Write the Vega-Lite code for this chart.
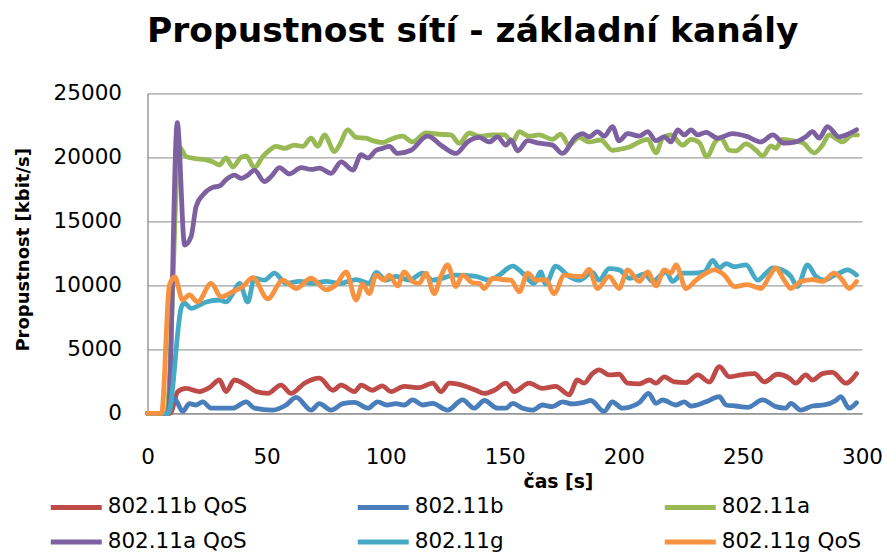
{
  "$schema": "https://vega.github.io/schema/vega-lite/v6.json",
  "width": 714.5,
  "height": 320,
  "autosize": {"type": "none"},
  "padding": {"left": 147.5, "top": 93.3, "right": 25, "bottom": 138.7},
  "background": "white",
  "title": {
    "text": "Propustnost sítí - základní kanály",
    "font": "DejaVu Sans",
    "fontSize": 34.5,
    "fontWeight": "bold",
    "color": "#000000",
    "anchor": "middle",
    "frame": "group",
    "dx": -32,
    "baseline": "alphabetic",
    "offset": 6
  },
  "datasets": {
    "d": [
      {"s":"802.11b QoS","t":0,"v":0},{"s":"802.11b QoS","t":3,"v":0},{"s":"802.11b QoS","t":6,"v":0},{"s":"802.11b QoS","t":9.5,"v":0},
      {"s":"802.11b QoS","t":12.7,"v":1700},{"s":"802.11b QoS","t":16.2,"v":1950},{"s":"802.11b QoS","t":21.8,"v":1700},{"s":"802.11b QoS","t":26,"v":2000},
      {"s":"802.11b QoS","t":30.2,"v":2600},{"s":"802.11b QoS","t":33,"v":1700},{"s":"802.11b QoS","t":36.5,"v":2600},{"s":"802.11b QoS","t":41.4,"v":2200},
      {"s":"802.11b QoS","t":45.6,"v":1700},{"s":"802.11b QoS","t":50.5,"v":1550},{"s":"802.11b QoS","t":56,"v":2200},{"s":"802.11b QoS","t":60.3,"v":1550},
      {"s":"802.11b QoS","t":65.9,"v":2350},{"s":"802.11b QoS","t":72.2,"v":2750},{"s":"802.11b QoS","t":77.8,"v":1800},{"s":"802.11b QoS","t":81.3,"v":2200},
      {"s":"802.11b QoS","t":86.9,"v":1700},{"s":"802.11b QoS","t":89.7,"v":2200},{"s":"802.11b QoS","t":94.5,"v":1800},{"s":"802.11b QoS","t":98.5,"v":2150},
      {"s":"802.11b QoS","t":102.2,"v":1700},{"s":"802.11b QoS","t":107.8,"v":2100},{"s":"802.11b QoS","t":114.1,"v":2000},{"s":"802.11b QoS","t":119.7,"v":2350},
      {"s":"802.11b QoS","t":123.2,"v":1700},{"s":"802.11b QoS","t":126.7,"v":2350},{"s":"802.11b QoS","t":133.7,"v":2100},{"s":"802.11b QoS","t":137.9,"v":1800},
      {"s":"802.11b QoS","t":141.4,"v":1550},{"s":"802.11b QoS","t":145.6,"v":1800},{"s":"802.11b QoS","t":150.5,"v":2350},{"s":"802.11b QoS","t":154,"v":1700},
      {"s":"802.11b QoS","t":160.2,"v":2350},{"s":"802.11b QoS","t":165.8,"v":1950},{"s":"802.11b QoS","t":171.4,"v":2100},{"s":"802.11b QoS","t":177,"v":1450},
      {"s":"802.11b QoS","t":180.5,"v":2600},{"s":"802.11b QoS","t":183.3,"v":2350},{"s":"802.11b QoS","t":186.8,"v":3100},{"s":"802.11b QoS","t":189.6,"v":3400},
      {"s":"802.11b QoS","t":193.8,"v":3000},{"s":"802.11b QoS","t":198,"v":3050},{"s":"802.11b QoS","t":201.6,"v":2350},{"s":"802.11b QoS","t":206.5,"v":2300},
      {"s":"802.11b QoS","t":210.7,"v":2600},{"s":"802.11b QoS","t":213.5,"v":2350},{"s":"802.11b QoS","t":217,"v":2850},{"s":"802.11b QoS","t":221.2,"v":2450},
      {"s":"802.11b QoS","t":226.1,"v":2400},{"s":"802.11b QoS","t":231,"v":3000},{"s":"802.11b QoS","t":235.9,"v":2450},{"s":"802.11b QoS","t":240.1,"v":3650},
      {"s":"802.11b QoS","t":244.3,"v":2850},{"s":"802.11b QoS","t":249.2,"v":3000},{"s":"802.11b QoS","t":254.8,"v":3100},{"s":"802.11b QoS","t":259,"v":2450},
      {"s":"802.11b QoS","t":264.5,"v":3050},{"s":"802.11b QoS","t":269.4,"v":2750},{"s":"802.11b QoS","t":272.2,"v":2350},{"s":"802.11b QoS","t":276.4,"v":3000},
      {"s":"802.11b QoS","t":279.2,"v":2600},{"s":"802.11b QoS","t":283.4,"v":3100},{"s":"802.11b QoS","t":287.6,"v":3200},{"s":"802.11b QoS","t":293.2,"v":2350},
      {"s":"802.11b QoS","t":297.7,"v":3100},

      {"s":"802.11b","t":0,"v":0},{"s":"802.11b","t":3,"v":0},{"s":"802.11b","t":6,"v":0},{"s":"802.11b","t":8.5,"v":0},
      {"s":"802.11b","t":11.3,"v":1150},{"s":"802.11b","t":14.8,"v":150},{"s":"802.11b","t":17.6,"v":750},{"s":"802.11b","t":20.4,"v":650},
      {"s":"802.11b","t":23.2,"v":900},{"s":"802.11b","t":26.7,"v":400},{"s":"802.11b","t":30,"v":400},{"s":"802.11b","t":35.8,"v":400},
      {"s":"802.11b","t":41.4,"v":900},{"s":"802.11b","t":44.9,"v":400},{"s":"802.11b","t":52.6,"v":250},{"s":"802.11b","t":58.2,"v":650},
      {"s":"802.11b","t":62.4,"v":1250},{"s":"802.11b","t":68.7,"v":250},{"s":"802.11b","t":72.2,"v":750},{"s":"802.11b","t":77.1,"v":250},
      {"s":"802.11b","t":82,"v":750},{"s":"802.11b","t":86.9,"v":850},{"s":"802.11b","t":92.5,"v":400},{"s":"802.11b","t":96.6,"v":900},
      {"s":"802.11b","t":100.5,"v":650},{"s":"802.11b","t":104.3,"v":750},{"s":"802.11b","t":107.8,"v":650},{"s":"802.11b","t":111.3,"v":1050},
      {"s":"802.11b","t":115.5,"v":650},{"s":"802.11b","t":119.7,"v":780},{"s":"802.11b","t":126,"v":250},{"s":"802.11b","t":132.3,"v":1050},
      {"s":"802.11b","t":137.2,"v":400},{"s":"802.11b","t":141.4,"v":1000},{"s":"802.11b","t":147,"v":400},{"s":"802.11b","t":150.5,"v":400},
      {"s":"802.11b","t":153.3,"v":780},{"s":"802.11b","t":157.5,"v":400},{"s":"802.11b","t":161.7,"v":250},{"s":"802.11b","t":165.8,"v":650},
      {"s":"802.11b","t":170,"v":520},{"s":"802.11b","t":174.2,"v":900},{"s":"802.11b","t":178.4,"v":730},{"s":"802.11b","t":182.6,"v":830},
      {"s":"802.11b","t":186.1,"v":1000},{"s":"802.11b","t":191.7,"v":150},{"s":"802.11b","t":195.2,"v":900},{"s":"802.11b","t":199.4,"v":400},
      {"s":"802.11b","t":202.3,"v":470},{"s":"802.11b","t":206.5,"v":830},{"s":"802.11b","t":210.4,"v":1550},{"s":"802.11b","t":213.5,"v":780},
      {"s":"802.11b","t":216.3,"v":1040},{"s":"802.11b","t":221.9,"v":650},{"s":"802.11b","t":225.4,"v":900},{"s":"802.11b","t":228.2,"v":570},
      {"s":"802.11b","t":234.5,"v":900},{"s":"802.11b","t":240.1,"v":1300},{"s":"802.11b","t":242.9,"v":650},{"s":"802.11b","t":247.1,"v":570},
      {"s":"802.11b","t":252,"v":470},{"s":"802.11b","t":258.3,"v":1050},{"s":"802.11b","t":263.8,"v":520},{"s":"802.11b","t":268,"v":400},
      {"s":"802.11b","t":270.1,"v":780},{"s":"802.11b","t":274.3,"v":250},{"s":"802.11b","t":279.2,"v":570},{"s":"802.11b","t":284.1,"v":650},
      {"s":"802.11b","t":289,"v":1000},{"s":"802.11b","t":291.1,"v":1300},{"s":"802.11b","t":294.6,"v":400},{"s":"802.11b","t":297.7,"v":830},

      {"s":"802.11a","t":0,"v":0},{"s":"802.11a","t":3,"v":0},{"s":"802.11a","t":6,"v":0},{"s":"802.11a","t":8,"v":0},
      {"s":"802.11a","t":13.4,"v":20800},{"s":"802.11a","t":16.2,"v":20050},{"s":"802.11a","t":20,"v":19900},{"s":"802.11a","t":24.6,"v":19800},
      {"s":"802.11a","t":27.4,"v":19650},{"s":"802.11a","t":30.2,"v":19400},{"s":"802.11a","t":33,"v":19950},{"s":"802.11a","t":35.8,"v":19250},
      {"s":"802.11a","t":39.3,"v":20000},{"s":"802.11a","t":41.4,"v":20100},{"s":"802.11a","t":44.9,"v":19200},{"s":"802.11a","t":48.4,"v":20050},
      {"s":"802.11a","t":51.2,"v":20550},{"s":"802.11a","t":54,"v":20850},{"s":"802.11a","t":57.5,"v":20700},{"s":"802.11a","t":61.7,"v":20950},
      {"s":"802.11a","t":65.2,"v":20850},{"s":"802.11a","t":68.7,"v":21500},{"s":"802.11a","t":71.5,"v":20850},{"s":"802.11a","t":74.3,"v":21750},
      {"s":"802.11a","t":78.5,"v":20450},{"s":"802.11a","t":80.6,"v":20950},{"s":"802.11a","t":84.1,"v":22150},{"s":"802.11a","t":87.6,"v":21550},
      {"s":"802.11a","t":91.8,"v":21500},{"s":"802.11a","t":94.5,"v":21300},{"s":"802.11a","t":98.7,"v":21150},{"s":"802.11a","t":101.5,"v":21350},
      {"s":"802.11a","t":107,"v":21650},{"s":"802.11a","t":111.3,"v":21200},{"s":"802.11a","t":116.9,"v":21900},{"s":"802.11a","t":122.5,"v":21800},
      {"s":"802.11a","t":127.4,"v":21750},{"s":"802.11a","t":130.9,"v":21100},{"s":"802.11a","t":135.1,"v":21900},{"s":"802.11a","t":139.3,"v":21650},
      {"s":"802.11a","t":144.9,"v":21750},{"s":"802.11a","t":149.8,"v":21750},{"s":"802.11a","t":153.3,"v":21200},{"s":"802.11a","t":156.1,"v":22000},
      {"s":"802.11a","t":160.2,"v":21650},{"s":"802.11a","t":164.4,"v":21750},{"s":"802.11a","t":170,"v":21400},{"s":"802.11a","t":173.5,"v":21800},
      {"s":"802.11a","t":177,"v":20950},{"s":"802.11a","t":181.2,"v":21550},{"s":"802.11a","t":185.4,"v":21200},{"s":"802.11a","t":190.3,"v":21350},
      {"s":"802.11a","t":195.2,"v":20550},{"s":"802.11a","t":200.1,"v":20700},{"s":"802.11a","t":202.3,"v":20800},{"s":"802.11a","t":206.5,"v":21200},
      {"s":"802.11a","t":210,"v":21400},{"s":"802.11a","t":213.5,"v":20350},{"s":"802.11a","t":216.3,"v":21500},{"s":"802.11a","t":219.8,"v":21750},
      {"s":"802.11a","t":224.7,"v":20950},{"s":"802.11a","t":228.2,"v":21400},{"s":"802.11a","t":231.7,"v":21150},{"s":"802.11a","t":234.8,"v":20050},
      {"s":"802.11a","t":238.7,"v":21300},{"s":"802.11a","t":240.8,"v":21500},{"s":"802.11a","t":244.3,"v":20550},{"s":"802.11a","t":247.1,"v":20500},
      {"s":"802.11a","t":251.3,"v":21050},{"s":"802.11a","t":255.5,"v":20550},{"s":"802.11a","t":258.3,"v":20100},{"s":"802.11a","t":261.8,"v":20900},
      {"s":"802.11a","t":263.8,"v":20700},{"s":"802.11a","t":266.6,"v":21400},{"s":"802.11a","t":270.8,"v":21300},{"s":"802.11a","t":275,"v":21150},
      {"s":"802.11a","t":279.9,"v":20350},{"s":"802.11a","t":283.4,"v":20950},{"s":"802.11a","t":286.2,"v":21750},{"s":"802.11a","t":289.7,"v":21400},
      {"s":"802.11a","t":291.8,"v":21200},{"s":"802.11a","t":296,"v":21750},{"s":"802.11a","t":298.1,"v":21750},

      {"s":"802.11a QoS","t":0,"v":0},{"s":"802.11a QoS","t":3,"v":0},{"s":"802.11a QoS","t":6,"v":0},{"s":"802.11a QoS","t":8.7,"v":0},
      {"s":"802.11a QoS","t":12.5,"v":22700},{"s":"802.11a QoS","t":15.6,"v":13150},{"s":"802.11a QoS","t":18.3,"v":13800},{"s":"802.11a QoS","t":20.4,"v":16150},
      {"s":"802.11a QoS","t":23.2,"v":17050},{"s":"802.11a QoS","t":27.4,"v":17650},{"s":"802.11a QoS","t":30.2,"v":17750},{"s":"802.11a QoS","t":33,"v":18250},
      {"s":"802.11a QoS","t":36.5,"v":18600},{"s":"802.11a QoS","t":39.3,"v":18350},{"s":"802.11a QoS","t":42.1,"v":18600},{"s":"802.11a QoS","t":44.9,"v":19000},
      {"s":"802.11a QoS","t":49.1,"v":18100},{"s":"802.11a QoS","t":51.9,"v":18500},{"s":"802.11a QoS","t":55.4,"v":19200},{"s":"802.11a QoS","t":59.6,"v":18700},
      {"s":"802.11a QoS","t":64.5,"v":19200},{"s":"802.11a QoS","t":68.7,"v":19050},{"s":"802.11a QoS","t":72.2,"v":19150},{"s":"802.11a QoS","t":77.1,"v":18750},
      {"s":"802.11a QoS","t":81.3,"v":19650},{"s":"802.11a QoS","t":86.2,"v":19000},{"s":"802.11a QoS","t":89.7,"v":20200},{"s":"802.11a QoS","t":92.5,"v":19950},
      {"s":"802.11a QoS","t":96,"v":20550},{"s":"802.11a QoS","t":98.7,"v":20700},{"s":"802.11a QoS","t":101.5,"v":20850},{"s":"802.11a QoS","t":105,"v":20300},
      {"s":"802.11a QoS","t":110.6,"v":20550},{"s":"802.11a QoS","t":117.6,"v":21650},{"s":"802.11a QoS","t":123.9,"v":20850},{"s":"802.11a QoS","t":129.5,"v":20300},
      {"s":"802.11a QoS","t":134.4,"v":21200},{"s":"802.11a QoS","t":139.3,"v":21550},{"s":"802.11a QoS","t":143.5,"v":21200},{"s":"802.11a QoS","t":147,"v":21600},
      {"s":"802.11a QoS","t":150.5,"v":20950},{"s":"802.11a QoS","t":152.6,"v":21350},{"s":"802.11a QoS","t":155.4,"v":20500},{"s":"802.11a QoS","t":159.6,"v":21300},
      {"s":"802.11a QoS","t":164.4,"v":21100},{"s":"802.11a QoS","t":170,"v":20950},{"s":"802.11a QoS","t":174.2,"v":20300},{"s":"802.11a QoS","t":179.8,"v":21600},
      {"s":"802.11a QoS","t":182.6,"v":21850},{"s":"802.11a QoS","t":185.4,"v":21600},{"s":"802.11a QoS","t":189,"v":22000},{"s":"802.11a QoS","t":191.8,"v":21650},
      {"s":"802.11a QoS","t":195.2,"v":22400},{"s":"802.11a QoS","t":198,"v":21300},{"s":"802.11a QoS","t":201.6,"v":21850},{"s":"802.11a QoS","t":206.5,"v":21650},
      {"s":"802.11a QoS","t":210,"v":22000},{"s":"802.11a QoS","t":213.5,"v":21300},{"s":"802.11a QoS","t":217,"v":21600},{"s":"802.11a QoS","t":219.8,"v":21200},
      {"s":"802.11a QoS","t":222.6,"v":22150},{"s":"802.11a QoS","t":225.4,"v":21750},{"s":"802.11a QoS","t":228.2,"v":22150},{"s":"802.11a QoS","t":231,"v":21750},
      {"s":"802.11a QoS","t":234.5,"v":21950},{"s":"802.11a QoS","t":239.4,"v":21500},{"s":"802.11a QoS","t":245.7,"v":21850},{"s":"802.11a QoS","t":251.3,"v":21650},
      {"s":"802.11a QoS","t":257.6,"v":21200},{"s":"802.11a QoS","t":262.5,"v":21750},{"s":"802.11a QoS","t":267.3,"v":21100},{"s":"802.11a QoS","t":272.2,"v":21200},
      {"s":"802.11a QoS","t":276.4,"v":21600},{"s":"802.11a QoS","t":279.2,"v":22000},{"s":"802.11a QoS","t":282,"v":21500},{"s":"802.11a QoS","t":285.5,"v":22400},
      {"s":"802.11a QoS","t":290.4,"v":21600},{"s":"802.11a QoS","t":294.6,"v":21850},{"s":"802.11a QoS","t":297.7,"v":22150},

      {"s":"802.11g","t":0,"v":0},{"s":"802.11g","t":3,"v":0},{"s":"802.11g","t":6,"v":0},{"s":"802.11g","t":8.7,"v":0},
      {"s":"802.11g","t":14.3,"v":8350},{"s":"802.11g","t":15.5,"v":8600},{"s":"802.11g","t":18.3,"v":8200},{"s":"802.11g","t":24.6,"v":8700},
      {"s":"802.11g","t":30.2,"v":8850},{"s":"802.11g","t":33,"v":8700},{"s":"802.11g","t":35.8,"v":9350},{"s":"802.11g","t":38.6,"v":10150},
      {"s":"802.11g","t":42.1,"v":8700},{"s":"802.11g","t":44.9,"v":10550},{"s":"802.11g","t":49.1,"v":10400},{"s":"802.11g","t":53.3,"v":10950},
      {"s":"802.11g","t":58.2,"v":10150},{"s":"802.11g","t":63.8,"v":10300},{"s":"802.11g","t":69.4,"v":10150},{"s":"802.11g","t":75,"v":10300},
      {"s":"802.11g","t":80.6,"v":10150},{"s":"802.11g","t":87.6,"v":10450},{"s":"802.11g","t":93.1,"v":10150},{"s":"802.11g","t":96,"v":11000},
      {"s":"802.11g","t":100.1,"v":10400},{"s":"802.11g","t":104.3,"v":10700},{"s":"802.11g","t":109.9,"v":10400},{"s":"802.11g","t":115.5,"v":10950},
      {"s":"802.11g","t":119.7,"v":10400},{"s":"802.11g","t":129.5,"v":10800},{"s":"802.11g","t":137.9,"v":10700},{"s":"802.11g","t":143.5,"v":10400},
      {"s":"802.11g","t":147.7,"v":10800},{"s":"802.11g","t":153.3,"v":11500},{"s":"802.11g","t":157.5,"v":10950},{"s":"802.11g","t":162.3,"v":10150},
      {"s":"802.11g","t":165.1,"v":11050},{"s":"802.11g","t":167.2,"v":10100},{"s":"802.11g","t":171.4,"v":11500},{"s":"802.11g","t":177,"v":10700},
      {"s":"802.11g","t":181.2,"v":10400},{"s":"802.11g","t":186.8,"v":11000},{"s":"802.11g","t":189.6,"v":10400},{"s":"802.11g","t":193.8,"v":11300},
      {"s":"802.11g","t":198.1,"v":11200},{"s":"802.11g","t":202.3,"v":10550},{"s":"802.11g","t":205.8,"v":10700},{"s":"802.11g","t":208.6,"v":10900},
      {"s":"802.11g","t":212.1,"v":10300},{"s":"802.11g","t":215.6,"v":10800},{"s":"802.11g","t":217.7,"v":11050},{"s":"802.11g","t":220.5,"v":10300},
      {"s":"802.11g","t":224.7,"v":10950},{"s":"802.11g","t":228.9,"v":10950},{"s":"802.11g","t":233.8,"v":11050},{"s":"802.11g","t":237.3,"v":11950},
      {"s":"802.11g","t":240.1,"v":11350},{"s":"802.11g","t":242.9,"v":11700},{"s":"802.11g","t":246.4,"v":11450},{"s":"802.11g","t":251.3,"v":11600},
      {"s":"802.11g","t":256.2,"v":10400},{"s":"802.11g","t":259.7,"v":10950},{"s":"802.11g","t":262.5,"v":11350},{"s":"802.11g","t":266.6,"v":11200},
      {"s":"802.11g","t":270.1,"v":10700},{"s":"802.11g","t":272.9,"v":9900},{"s":"802.11g","t":277.1,"v":11600},{"s":"802.11g","t":280.6,"v":10700},
      {"s":"802.11g","t":284.1,"v":10400},{"s":"802.11g","t":287.6,"v":10700},{"s":"802.11g","t":290.4,"v":10950},{"s":"802.11g","t":293.9,"v":11200},
      {"s":"802.11g","t":297.7,"v":10800},

      {"s":"802.11g QoS","t":0,"v":0},{"s":"802.11g QoS","t":3,"v":0},{"s":"802.11g QoS","t":5.9,"v":0},{"s":"802.11g QoS","t":9.2,"v":10000},
      {"s":"802.11g QoS","t":11.5,"v":10650},{"s":"802.11g QoS","t":14.7,"v":8850},{"s":"802.11g QoS","t":17.6,"v":9250},{"s":"802.11g QoS","t":21.1,"v":8700},
      {"s":"802.11g QoS","t":26.7,"v":10150},{"s":"802.11g QoS","t":30.9,"v":9100},{"s":"802.11g QoS","t":35.8,"v":9500},{"s":"802.11g QoS","t":40,"v":9900},
      {"s":"802.11g QoS","t":44.2,"v":10600},{"s":"802.11g QoS","t":50.5,"v":8950},{"s":"802.11g QoS","t":56.8,"v":10400},{"s":"802.11g QoS","t":62.4,"v":9750},
      {"s":"802.11g QoS","t":68.7,"v":10550},{"s":"802.11g QoS","t":75,"v":9650},{"s":"802.11g QoS","t":79.2,"v":10050},{"s":"802.11g QoS","t":83.4,"v":11050},
      {"s":"802.11g QoS","t":87.6,"v":8850},{"s":"802.11g QoS","t":90.3,"v":10100},{"s":"802.11g QoS","t":93.1,"v":9350},{"s":"802.11g QoS","t":96,"v":10800},
      {"s":"802.11g QoS","t":99.4,"v":10400},{"s":"802.11g QoS","t":101.5,"v":10800},{"s":"802.11g QoS","t":105,"v":9950},{"s":"802.11g QoS","t":107.8,"v":11050},
      {"s":"802.11g QoS","t":111.3,"v":10300},{"s":"802.11g QoS","t":114.1,"v":10150},{"s":"802.11g QoS","t":116.9,"v":10950},{"s":"802.11g QoS","t":120.4,"v":9350},
      {"s":"802.11g QoS","t":123.2,"v":10700},{"s":"802.11g QoS","t":126,"v":11600},{"s":"802.11g QoS","t":129.5,"v":9900},{"s":"802.11g QoS","t":132.3,"v":10800},
      {"s":"802.11g QoS","t":136.5,"v":10200},{"s":"802.11g QoS","t":139.3,"v":10150},{"s":"802.11g QoS","t":141.4,"v":9750},{"s":"802.11g QoS","t":144.9,"v":10550},
      {"s":"802.11g QoS","t":149.1,"v":10450},{"s":"802.11g QoS","t":152.6,"v":10400},{"s":"802.11g QoS","t":156.1,"v":9500},{"s":"802.11g QoS","t":159.6,"v":10950},
      {"s":"802.11g QoS","t":163.1,"v":10400},{"s":"802.11g QoS","t":167.2,"v":10450},{"s":"802.11g QoS","t":170.7,"v":9350},{"s":"802.11g QoS","t":175,"v":10800},
      {"s":"802.11g QoS","t":179.8,"v":10700},{"s":"802.11g QoS","t":182.6,"v":10700},{"s":"802.11g QoS","t":185.4,"v":11250},{"s":"802.11g QoS","t":188.9,"v":9750},
      {"s":"802.11g QoS","t":193.8,"v":10700},{"s":"802.11g QoS","t":198,"v":9750},{"s":"802.11g QoS","t":201.6,"v":11200},{"s":"802.11g QoS","t":206.5,"v":10300},
      {"s":"802.11g QoS","t":210,"v":11050},{"s":"802.11g QoS","t":213.5,"v":9950},{"s":"802.11g QoS","t":217,"v":11200},{"s":"802.11g QoS","t":219.8,"v":10950},
      {"s":"802.11g QoS","t":221.9,"v":11600},{"s":"802.11g QoS","t":226.1,"v":9750},{"s":"802.11g QoS","t":230.3,"v":10400},{"s":"802.11g QoS","t":234.5,"v":10950},
      {"s":"802.11g QoS","t":238,"v":11200},{"s":"802.11g QoS","t":242.2,"v":10800},{"s":"802.11g QoS","t":246.4,"v":9900},{"s":"802.11g QoS","t":251.9,"v":10050},
      {"s":"802.11g QoS","t":257.6,"v":9750},{"s":"802.11g QoS","t":261.1,"v":10700},{"s":"802.11g QoS","t":263.8,"v":11350},{"s":"802.11g QoS","t":267.3,"v":10400},
      {"s":"802.11g QoS","t":270.1,"v":9750},{"s":"802.11g QoS","t":274.3,"v":10300},{"s":"802.11g QoS","t":279.2,"v":10450},{"s":"802.11g QoS","t":283.4,"v":10300},
      {"s":"802.11g QoS","t":288.3,"v":10950},{"s":"802.11g QoS","t":291.8,"v":10400},{"s":"802.11g QoS","t":294.6,"v":9750},{"s":"802.11g QoS","t":297.7,"v":10300}
    ]
  },
  "data": {"name": "d"},
  "mark": {"type": "line", "interpolate": "monotone", "strokeWidth": 4.8, "strokeCap": "round", "strokeJoin": "round"},
  "encoding": {
    "x": {
      "field": "t", "type": "quantitative",
      "scale": {"domain": [0, 300], "nice": false, "zero": false},
      "axis": {
        "title": "čas [s]",
        "values": [0, 50, 100, 150, 200, 250, 300],
        "grid": false,
        "ticks": false,
        "labelFlush": false,
        "labelPadding": 33,
        "labelFont": "DejaVu Sans", "labelFontSize": 21.5, "labelColor": "#000000",
        "domainColor": "#8c8c8c", "domainWidth": 1.3,
        "titleFont": "DejaVu Sans", "titleFontSize": 18.8, "titleFontWeight": "bold", "titleColor": "#000000",
        "titleX": 410.5, "titleY": 74, "titleBaseline": "alphabetic", "titleAlign": "center"
      }
    },
    "y": {
      "field": "v", "type": "quantitative",
      "scale": {"domain": [0, 25000], "nice": false},
      "axis": {
        "title": "Propustnost [kbit/s]",
        "values": [0, 5000, 10000, 15000, 20000, 25000],
        "format": "d",
        "grid": true, "gridColor": "#a0a0a0", "gridWidth": 1.3,
        "ticks": false,
        "labelFlush": false,
        "labelPadding": 26,
        "labelFont": "DejaVu Sans", "labelFontSize": 21.5, "labelColor": "#000000",
        "domainColor": "#8c8c8c", "domainWidth": 1.3,
        "titleFont": "DejaVu Sans", "titleFontSize": 18, "titleFontWeight": "bold", "titleColor": "#000000",
        "titleX": -119.5, "titleY": 156, "titleAngle": 270, "titleBaseline": "alphabetic", "titleAlign": "center"
      }
    },
    "color": {
      "field": "s", "type": "nominal",
      "scale": {
        "domain": ["802.11b QoS", "802.11b", "802.11a", "802.11a QoS", "802.11g", "802.11g QoS"],
        "range": ["#BE4B48", "#4A7EBB", "#98B954", "#7D60A0", "#46AAC5", "#F69240"]
      },
      "legend": {
        "title": null,
        "orient": "none",
        "legendX": -86.75,
        "legendY": 398.6,
        "direction": "horizontal",
        "columns": 3,
        "gridAlign": "all",
        "columnPadding": 100,
        "rowPadding": 8.7,
        "symbolType": "M-2,0H2",
        "symbolSize": 650,
        "symbolStrokeWidth": 5,
        "symbolFillColor": "transparent",
        "labelFont": "DejaVu Sans", "labelFontSize": 21.5, "labelColor": "#000000",
        "labelOffset": 16,
        "labelLimit": 300
      }
    }
  },
  "config": {"view": {"stroke": null}}
}
